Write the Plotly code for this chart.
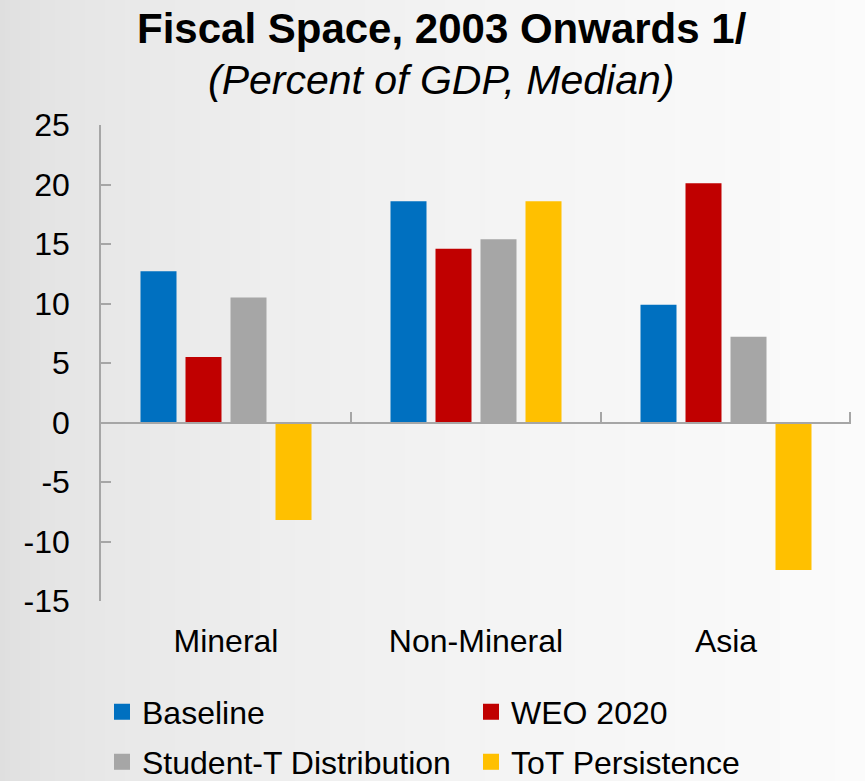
import plotly.graph_objects as go

# Data
categories = ["Mineral", "Non-Mineral", "Asia"]
series_names = ["Baseline", "WEO 2020", "Student-T Distribution", "ToT Persistence"]
baseline = [12.7, 18.6, 9.9]
weo_2020 = [5.5, 14.6, 20.1]
student_t = [10.5, 15.4, 7.2]
tot_persistence = [-8.2, 18.6, -12.4]
y_ticks = [-15, -10, -5, 0, 5, 10, 15, 20, 25]
y_tick_labels = [str(v) for v in y_ticks]

series_values = [baseline, weo_2020, student_t, tot_persistence]
colors = ["#0070C0", "#C00000", "#A6A6A6", "#FFC000"]

FONT = "Liberation Sans, Arial, sans-serif"
AXIS_GRAY = "#A6A6A6"

W, H = 865, 781
L, R, T, B = 101, 14, 125, 180
PW, PH = W - L - R, H - T - B


def px_x(x):
    return (x - L) / PW


def px_y(y):
    return 1 + (T - y) / PH


fig = go.Figure()

for name, vals, col in zip(series_names, series_values, colors):
    fig.add_trace(go.Bar(
        x=categories, y=vals, name=name, marker_color=col,
        marker_line_width=0, showlegend=False,
    ))

# Carrier for the zero-line axis (ticks on category boundaries at y = 0)
n_cat = len(categories)
fig.add_trace(go.Scatter(
    x=list(range(n_cat)), y=[0] * n_cat, xaxis="x2", mode="none",
    showlegend=False, hoverinfo="skip",
))

# Legend entries: two rows, each in its own legend
for i, (name, col) in enumerate(zip(series_names, colors)):
    fig.add_trace(go.Scatter(
        x=[None], y=[None], mode="markers", name=name,
        marker=dict(symbol="square", size=16, color=col, line_width=0),
        legend="legend" if i < 2 else "legend2",
    ))

# Soft horizontal background gradient
shapes = []
n_strips = 173
for k in range(n_strips):
    x0 = k * W / n_strips
    x1 = (k + 1) * W / n_strips + 0.6
    t = (x0 + x1) / 2 / W
    c = int(round(221 + 30 * t ** 0.5))
    c = min(c, 252)
    shapes.append(dict(
        type="rect", xref="paper", yref="paper", layer="below",
        x0=px_x(x0), x1=px_x(x1), y0=px_y(H + 2), y1=px_y(-2),
        fillcolor=f"rgb({c},{c},{c})", line_width=0,
    ))

legend_common = dict(
    orientation="h", bgcolor="rgba(0,0,0,0)", borderwidth=0,
    font=dict(family=FONT, size=32, color="#000000"),
    entrywidth=324, entrywidthmode="pixels",
    xanchor="left", yanchor="middle", itemclick=False,
)

# boundary ticks; the last one nudged just inside the range so it is kept
boundary_ticks = [i - 0.5 for i in range(n_cat)] + [n_cat - 0.5 - 0.006]

fig.update_layout(
    width=W, height=H,
    margin=dict(l=L, r=R, t=T, b=B, pad=0, autoexpand=False),
    paper_bgcolor="#ffffff", plot_bgcolor="rgba(0,0,0,0)",
    font=dict(family=FONT, size=32, color="#000000"),
    barmode="group", bargap=0.28, bargroupgap=0.2,
    shapes=shapes,
    legend=dict(x=px_x(102), y=px_y(712), **legend_common),
    legend2=dict(x=px_x(102), y=px_y(762), **legend_common),
    xaxis=dict(
        type="category", categoryorder="array", categoryarray=categories,
        range=[-0.5, n_cat - 0.5], showline=False, showgrid=False, zeroline=False,
        ticks="", tickfont=dict(family=FONT, size=32, color="#000000"),
        ticklabelstandoff=18,
    ),
    xaxis2=dict(
        type="linear", range=[-0.5, n_cat - 0.5], overlaying="x",
        anchor="free", side="bottom",
        position=(0 - y_ticks[0]) / (y_ticks[-1] - y_ticks[0]),
        showline=True, linecolor=AXIS_GRAY, linewidth=1.5,
        tickmode="array", tickvals=boundary_ticks,
        ticks="inside", ticklen=10, tickcolor=AXIS_GRAY, tickwidth=1.5,
        showticklabels=False, showgrid=False, zeroline=False,
    ),
    yaxis=dict(
        range=[y_ticks[0], y_ticks[-1]], tickvals=y_ticks, ticktext=y_tick_labels,
        showline=True, linecolor=AXIS_GRAY, linewidth=1.5,
        ticks="inside", ticklen=10, tickcolor=AXIS_GRAY, tickwidth=1.5,
        showgrid=False, zeroline=False,
        tickfont=dict(family=FONT, size=32, color="#000000"),
        ticklabelstandoff=23,
    ),
    annotations=[
        dict(text="<b>Fiscal Space, 2003 Onwards 1/</b>", xref="paper", yref="paper",
             x=px_x(442), y=px_y(28), xanchor="center", yanchor="middle",
             showarrow=False, font=dict(family=FONT, size=42, color="#000000")),
        dict(text="<i>(Percent of GDP, Median)</i>", xref="paper", yref="paper",
             x=px_x(441), y=px_y(80), xanchor="center", yanchor="middle",
             showarrow=False, font=dict(family=FONT, size=41, color="#000000")),
    ],
)

fig.write_html("out.html")
